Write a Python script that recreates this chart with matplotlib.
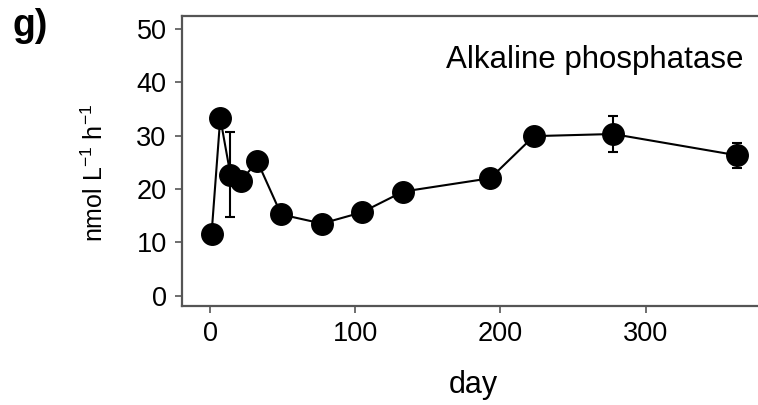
import numpy as np
import matplotlib.pyplot as plt

plt.rcParams['font.family'] = ['Liberation Sans', 'DejaVu Sans']

# 数据
days = [1, 7, 14, 21, 32.5, 49, 77, 104.5, 133, 193, 223, 277.5, 363]
activity = [11.5, 33.3, 22.7, 21.4, 25.2, 15.2, 13.5, 15.6, 19.5, 22.0, 29.9, 30.3, 26.3]
err = [0, 0, 8.0, 0, 0, 0, 0, 0, 0, 0, 0, 3.4, 2.4]
xticks = [0, 100, 200, 300]
yticks = [0, 10, 20, 30, 40, 50]

W, H = 758, 405
fig = plt.figure(figsize=(W / 100, H / 100), dpi=100)
ax = fig.add_axes([0.240, 0.244, 0.765, 0.716])

ax.errorbar(days, activity, yerr=err, color='black', lw=1.5, marker='o',
            ms=15.5, mfc='black', mec='black', ecolor='black', elinewidth=1.5,
            capsize=3.5, capthick=1.5, zorder=3)

ax.set_xlim(-19.4, 380)
ax.set_ylim(-2.0, 52.4)
ax.set_xticks(xticks)
ax.set_yticks(yticks)

for s in ['left', 'bottom', 'top', 'right']:
    ax.spines[s].set_color('#555555')
    ax.spines[s].set_linewidth(1.6)

ax.tick_params(axis='both', direction='out', length=5, width=1.2, color='#555555',
               labelsize=19.5, pad=6)

# 坐标轴标题用 fig.text 精确定位
fig.text(473 / W, 1 - 392.5 / H, 'day', fontsize=22, ha='center', va='baseline')
fig.text(95 / W, 1 - 173 / H, 'nmol L$^{\\mathregular{-1}}$ h$^{\\mathregular{-1}}$',
         fontsize=18, rotation=90, ha='center', va='center')

ax.text(0.969, 0.848, 'Alkaline phosphatase', transform=ax.transAxes,
        ha='right', va='center', fontsize=22.5)

fig.text(13 / W, 1 - 36 / H, 'g)', fontsize=27, fontweight='bold', ha='left', va='baseline')

fig.savefig('out.png', dpi=100)
